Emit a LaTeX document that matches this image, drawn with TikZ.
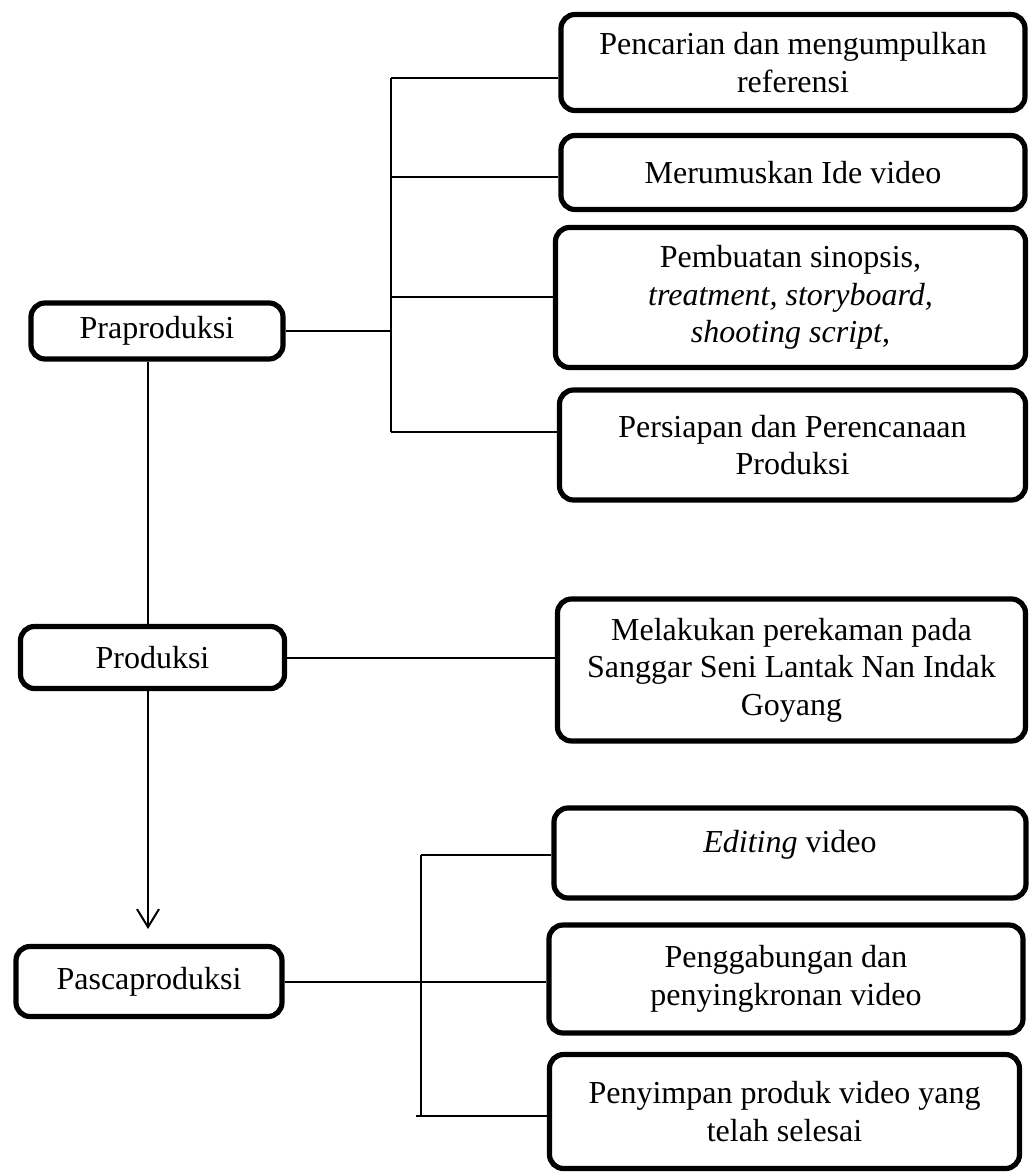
\documentclass[tikz,border=0pt]{standalone}
\usepackage{fontspec}
\setmainfont{Liberation Serif}
\usetikzlibrary{arrows.meta}
\begin{document}
\begin{tikzpicture}[x=0.5pt,y=-0.5pt,
  box/.style={draw, line width=2.6pt, rounded corners=7pt, align=center, inner sep=0pt,
    font=\fontsize{16pt}{18.8pt}\selectfont},
  conn/.style={line width=1pt}]
\useasboundingbox (0,0) rectangle (1030,1173);
% left column
\node[box, minimum width=126pt, minimum height=28pt] (pra) at (157,331) {Praproduksi};
\node[box, minimum width=132pt, minimum height=31pt] (pro) at (152.5,657.5) {Produksi};
\node[box, minimum width=133pt, minimum height=35pt] (pasca) at (149,981.5) {Pascaproduksi};
% right column
\node[box, minimum width=232pt, minimum height=48pt] (r1) at (793,62.5) {Pencarian dan mengumpulkan\\referensi};
\node[box, minimum width=232pt, minimum height=37pt] (r2) at (793,172.5) {Merumuskan Ide video};
\node[box, minimum width=235pt, minimum height=70pt] (r3) at (790.5,297.5) {Pembuatan sinopsis,\\\textit{treatment, storyboard,}\\\textit{shooting script},};
\node[box, minimum width=233pt, minimum height=55pt] (r4) at (792.5,445) {Persiapan dan Perencanaan\\Produksi};
\node[box, minimum width=234pt, minimum height=71pt] (r5) at (791.5,670) {Melakukan perekaman pada\\Sanggar Seni Lantak Nan Indak\\Goyang};
\node[box, minimum width=236pt, minimum height=45pt, text depth=12pt] (r6) at (790,853) {\textit{Editing} video};
\node[box, minimum width=237pt, minimum height=54pt] (r7) at (786,979) {Penggabungan dan\\penyingkronan video};
\node[box, minimum width=235pt, minimum height=57pt] (r8) at (784.5,1111.5) {Penyimpan produk video yang\\telah selesai};
% coordinates
\coordinate (spine) at (148,0);
\coordinate (tb1) at (391,78);
\coordinate (tb2) at (391,177);
\coordinate (tb3) at (391,297);
\coordinate (tb4) at (391,432);
\coordinate (bb1) at (421,855);
\coordinate (bb3) at (421,1116);
\coordinate (bb3s) at (416,1116);
\coordinate (arrowtip) at (148,929);
% top bracket
\draw[conn] (tb1) -- (tb4);
\draw[conn] (tb1) -- (tb1 -| r1.west);
\draw[conn] (tb2) -- (tb2 -| r2.west);
\draw[conn] (tb3) -- (tb3 -| r3.west);
\draw[conn] (tb4) -- (tb4 -| r4.west);
\draw[conn] (pra.east) -- (pra.east -| tb1);
% spine
\draw[conn] (pra.south -| spine) -- (pro.north -| spine);
\draw[conn] (pro.east) -- (pro.east -| r5.west);
\draw[conn, -{Straight Barb[length=9pt,width=11pt]}] (pro.south -| spine) -- (arrowtip);
% bottom bracket
\draw[conn] (bb1) -- (bb3);
\draw[conn] (bb1) -- (bb1 -| r6.west);
\draw[conn] (pasca.east) -- (pasca.east -| r7.west);
\draw[conn] (bb3s) -- (bb3 -| r8.west);
\end{tikzpicture}
\end{document}
